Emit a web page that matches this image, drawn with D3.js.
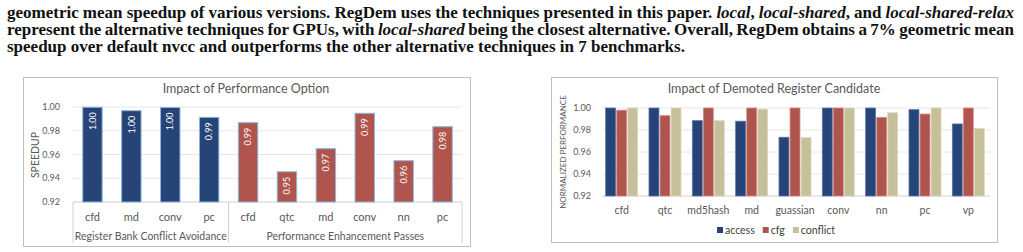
<html>
<head>
<script src="https://d3js.org/d3.v7.min.js"></script>
<style>
  body { margin: 0; background: white; width: 1023px; height: 252px; overflow: hidden; position: relative; }
  .cap { position: absolute; left: 7px; width: 1007px; font: bold 17px "Liberation Serif", serif; line-height: 17px; color: #111; white-space: nowrap; }
  .just { text-align: justify; text-align-last: justify; white-space: normal; word-spacing: -3px; }
  svg { position: absolute; left: 0; top: 0; }
  .font { font-family: Lato, "Open Sans", sans-serif; fill: #595959; }
</style>
</head>
<body>
<div class="cap just" style="top:4px">geometric mean speedup of various versions. RegDem uses the techniques presented in this paper. <i>local</i>, <i>local-shared</i>, and <i>local-shared-relax</i></div>
<div class="cap just" style="top:21px">represent the alternative techniques for GPUs, with <i>local-shared</i> being the closest alternative. Overall, RegDem obtains a 7% geometric mean</div>
<div class="cap" style="top:38px">speedup over default nvcc and outperforms the other alternative techniques in 7 benchmarks.</div>
<svg width="1023" height="252"></svg>
<script>
// left chart data
var optCats = ["cfd", "md", "conv", "pc", "cfd", "qtc", "md", "conv", "nn", "pc"];
var optGroup = ["rb", "rb", "rb", "rb", "pe", "pe", "pe", "pe", "pe", "pe"];
var optVals = [0.9998, 0.9969, 0.9996, 0.9913, 0.9868, 0.9455, 0.9649, 0.9947, 0.9548, 0.9834];
var optLabels = ["1.00", "1.00", "1.00", "0.99", "0.99", "0.95", "0.97", "0.99", "0.96", "0.98"];
var groupNames = ["Register Bank Conflict Avoidance", "Performance Enhancement Passes"];
var yTicks = [0.92, 0.94, 0.96, 0.98, 1.00];

// right chart data
var candCats = ["cfd", "qtc", "md5hash", "md", "guassian", "conv", "nn", "pc", "vp"];
var series = ["access", "cfg", "conflict"];
var access = [1.000, 1.000, 0.9885, 0.988, 0.9734, 1.000, 1.000, 0.9985, 0.9855];
var cfg = [0.998, 0.993, 1.000, 1.000, 1.000, 1.000, 0.9915, 0.9945, 1.000];
var conflict = [1.000, 1.000, 0.9885, 0.999, 0.973, 1.000, 0.9957, 1.000, 0.9815];

var blue = "#264478", red = "#B0554E", tan = "#C5BF9A";
var svg = d3.select("svg");

// ---------- left chart ----------
var L = svg.append("g");
L.append("rect").attr("x", 23.5).attr("y", 77.5).attr("width", 447).attr("height", 169)
  .attr("fill", "none").attr("stroke", "#BFBFBF");
L.append("text").attr("class", "font").attr("x", 246).attr("y", 93)
  .attr("text-anchor", "middle").style("font-size", "12.5px").text("Impact of Performance Option");

var xs = d3.scaleBand().domain(d3.range(optCats.length)).range([73, 462]);
var ys = d3.scaleLinear().domain([0.92, 1.0]).range([202, 107]);

L.selectAll(".grid").data(yTicks).enter().append("line")
  .attr("x1", 73).attr("x2", 462)
  .attr("y1", d => ys(d)).attr("y2", d => ys(d))
  .attr("stroke", d => d == 0.92 ? "#D0D0D0" : "#E6E6E6");
L.selectAll(".yt").data(yTicks).enter().append("text").attr("class", "font")
  .attr("x", 60).attr("y", d => ys(d)).attr("dy", "0.35em").attr("text-anchor", "end")
  .style("font-size", "9px").text(d => d3.format(".2f")(d));
L.append("text").attr("class", "font").attr("transform", "translate(35,155) rotate(-90)")
  .attr("text-anchor", "middle").attr("dy", "0.35em").style("font-size", "10.5px").text("SPEEDUP");

var bw = xs.bandwidth() * 0.5;
L.selectAll(".bar").data(optVals).enter().append("rect")
  .attr("x", (d, i) => xs(i) + (xs.bandwidth() - bw) / 2)
  .attr("y", d => ys(d))
  .attr("width", bw).attr("height", d => ys(0.92) - ys(d))
  .attr("fill", (d, i) => optGroup[i] == "rb" ? blue : red)
  .attr("stroke", "#8FB8DA").attr("stroke-width", 1);
L.selectAll(".lab").data(optVals).enter().append("text")
  .attr("transform", (d, i) => "translate(" + (xs(i) + xs.bandwidth() / 2) + "," + (ys(d) + 5) + ") rotate(-90)")
  .attr("text-anchor", "end").attr("dy", "0.35em")
  .style("font", "9px Lato, sans-serif").attr("fill", "white")
  .text((d, i) => optLabels[i]);
L.selectAll(".xl").data(optCats).enter().append("text").attr("class", "font")
  .attr("x", (d, i) => xs(i) + xs.bandwidth() / 2).attr("y", 221)
  .attr("text-anchor", "middle").style("font-size", "11px").text(d => d);
// group separators
[73, xs(4), 462].forEach(function (x) {
  L.append("line").attr("x1", x).attr("x2", x).attr("y1", 202).attr("y2", 243).attr("stroke", "#D0D0D0");
});
L.append("text").attr("class", "font").attr("x", (73 + xs(4)) / 2).attr("y", 240)
  .attr("text-anchor", "middle").style("font-size", "10.5px").text(groupNames[0]);
L.append("text").attr("class", "font").attr("x", (xs(4) + 462) / 2).attr("y", 240)
  .attr("text-anchor", "middle").style("font-size", "10.5px").text(groupNames[1]);

// ---------- right chart ----------
var R = svg.append("g");
R.append("rect").attr("x", 551.5).attr("y", 77.5).attr("width", 446).attr("height", 165)
  .attr("fill", "none").attr("stroke", "#BFBFBF");
R.append("text").attr("class", "font").attr("x", 774).attr("y", 93)
  .attr("text-anchor", "middle").style("font-size", "12.5px").text("Impact of Demoted Register Candidate");

var x0 = d3.scaleBand().domain(candCats).range([600, 990]);
var x1 = d3.scaleBand().domain(series).range([0, 32]).paddingInner(0.1);
var yr = d3.scaleLinear().domain([0.92, 1.0]).range([196, 108]);

R.selectAll(".grid").data(yTicks).enter().append("line")
  .attr("x1", 602).attr("x2", 990)
  .attr("y1", d => yr(d)).attr("y2", d => yr(d))
  .attr("stroke", d => d == 0.92 ? "#D0D0D0" : "#E6E6E6");
R.selectAll(".yt").data(yTicks).enter().append("text").attr("class", "font")
  .attr("x", 591).attr("y", d => yr(d)).attr("dy", "0.35em").attr("text-anchor", "end")
  .style("font-size", "9px").text(d => d3.format(".2f")(d));
R.append("text").attr("class", "font").attr("transform", "translate(563,152) rotate(-90)")
  .attr("text-anchor", "middle").attr("dy", "0.35em").style("font-size", "8px").text("NORMALIZED PERFORMANCE");

var vals = { access: access, cfg: cfg, conflict: conflict };
var colors = d3.scaleOrdinal().domain(series).range([blue, red, tan]);
var strokes = d3.scaleOrdinal().domain(series).range(["#5877A8", "#D48A84", "#DEDAC0"]);
series.forEach(function (s) {
  R.selectAll(".b-" + s).data(vals[s]).enter().append("rect")
    .attr("x", (d, i) => x0(candCats[i]) + (x0.bandwidth() - 32) / 2 + x1(s))
    .attr("y", d => yr(d))
    .attr("width", x1.bandwidth()).attr("height", d => yr(0.92) - yr(d))
    .attr("fill", colors(s)).attr("stroke", strokes(s)).attr("stroke-width", 0.8);
});
R.selectAll(".xl").data(candCats).enter().append("text").attr("class", "font")
  .attr("x", d => x0(d) + x0.bandwidth() / 2).attr("y", 214)
  .attr("text-anchor", "middle").style("font-size", "10.5px").text(d => d);

// legend, centred under the plot
var leg = R.append("g");
var lx = 0;
series.forEach(function (s, i) {
  leg.append("rect").attr("x", lx).attr("y", 227).attr("width", 6).attr("height", 6).attr("fill", colors(s));
  var t = leg.append("text").attr("x", lx + 8).attr("y", 230).attr("dy", "0.35em")
    .style("font", "10.5px Lato, sans-serif").attr("fill", "#404040").text(s);
  lx += 8 + t.node().getComputedTextLength() + 8;
});
leg.attr("transform", "translate(" + (776 - (lx - 8) / 2) + ",0)");
</script>
</body>
</html>
